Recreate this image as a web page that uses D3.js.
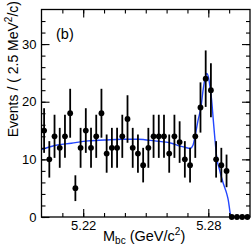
<!DOCTYPE html>
<html><head><meta charset="utf-8">
<script src="https://cdn.jsdelivr.net/npm/d3@7"></script>
<style>html,body{margin:0;padding:0;background:#fff;}svg{display:block;font-family:"Liberation Sans",Arial,sans-serif;}</style>
</head><body>
<script>
// Bin centres (GeV/c^2), 2.5 MeV bins from 5.20 to 5.30
const binLow = 5.20;
const binWidth = 0.0025;
const counts = [15,10,14,12,14,18,5,12,15,12,14,18,11,12,12,14,17,12,11,9,12,14,14,14,11,14,13,10,9,14,19,24,22,10,9,8,0,0,0,0];
const binCentres = counts.map((_, i) => +(binLow + (i + 0.5) * binWidth).toFixed(5));
// Fit curve
const fitMass = [5.2000,5.2063,5.2143,5.2223,5.2303,5.2383,5.2463,5.2543,5.2623,5.2664,5.2688,5.2712,5.2727,5.2736,5.2751,5.2765,5.2775,5.2784,5.2792,5.2800,5.2808,5.2816,5.2824,5.2832,5.2840,5.2856,5.2872,5.2888,5.2896,5.2904,5.2909,5.3000];
const fitEvents = [11.7,12.4,12.8,13.2,13.35,13.5,13.5,13.2,12.8,12.3,12.1,11.9,12.5,13.9,16.8,19.1,22.0,24.0,24.9,24.4,22.6,20.3,16.8,13.4,10.5,7.9,5.8,4.1,2.9,0.9,0,0];
const xLabelTicks = [5.22, 5.28];
const xMinorTicks = [5.21,5.22,5.23,5.24,5.25,5.26,5.27,5.28,5.29];
const yLabelTicks = [0, 10, 20, 30];
const yMinorTicks = d3.range(0, 36, 2);

const W = 251, H = 249;
const L = 41.5, R = 250, T = 9.5, B = 217;
const svg = d3.select("body").append("svg").attr("width", W).attr("height", H);
const x = d3.scaleLinear().domain([5.20, 5.30]).range([L, R]);
const y = d3.scaleLinear().domain([0, 36]).range([B, T]);

svg.append("clipPath").attr("id","c").append("rect").attr("x",L).attr("y",T).attr("width",R-L).attr("height",B-T);

// fit curve
const line = d3.line().x(d => x(d[0])).y(d => y(d[1])).curve(d3.curveMonotoneX);
svg.append("path").datum(fitMass.map((m,i)=>[m,fitEvents[i]]))
  .attr("d", line).attr("fill","none").attr("stroke","#2346ff").attr("stroke-width",1.4)
  .attr("clip-path","url(#c)");

// error bars and points
const g = svg.append("g");
binCentres.forEach((m,i)=>{
  const n = counts[i];
  if (n > 0) {
    const e = Math.sqrt(n);
    g.append("line").attr("x1",x(m)).attr("x2",x(m)).attr("y1",y(n-e)).attr("y2",y(Math.min(n+e,36)))
      .attr("stroke","#000").attr("stroke-width",1.8);
  }
  g.append("circle").attr("cx",x(m)).attr("cy",y(n)).attr("r",2.9).attr("fill","#000");
});

// frame
svg.append("rect").attr("x",L).attr("y",T).attr("width",R-L).attr("height",B-T)
  .attr("fill","none").attr("stroke","#000").attr("stroke-width",1.3);

// axes
const axB = d3.axisBottom(x).tickValues(xMinorTicks).tickSize(-4).tickFormat("");
const axT = d3.axisTop(x).tickValues(xMinorTicks).tickSize(-4).tickFormat("");
const axBM = d3.axisBottom(x).tickValues(xLabelTicks).tickSize(-8).tickPadding(4).tickFormat(d3.format(".2f"));
const axTM = d3.axisTop(x).tickValues(xLabelTicks).tickSize(-8).tickFormat("");
const axL = d3.axisLeft(y).tickValues(yMinorTicks).tickSize(-4).tickFormat("");
const axR = d3.axisRight(y).tickValues(yMinorTicks).tickSize(-4).tickFormat("");
const axLM = d3.axisLeft(y).tickValues(yLabelTicks).tickSize(-8).tickPadding(5).tickFormat(d3.format("d"));
const axRM = d3.axisRight(y).tickValues(yLabelTicks).tickSize(-8).tickFormat("");
function put(ax, tr){
  const a = svg.append("g").attr("transform",tr).call(ax);
  a.select(".domain").remove();
  a.selectAll("line").attr("stroke","#000").attr("stroke-width",1.1);
  a.selectAll("text").attr("fill","#000").attr("font-size",13).attr("font-family","Liberation Sans, Arial, sans-serif");
  return a;
}
put(axB, `translate(0,${B})`);
put(axT, `translate(0,${T})`);
put(axBM, `translate(0,${B})`);
put(axTM, `translate(0,${T})`);
put(axL, `translate(${L},0)`);
put(axR, `translate(${R},0)`);
put(axLM, `translate(${L},0)`);
put(axRM, `translate(${R},0)`);

// x title
const xt = svg.append("text").attr("x",103).attr("y",241).attr("font-size",14.5).attr("fill","#000");
xt.append("tspan").text("M");
xt.append("tspan").attr("font-size",10).attr("dy",3).text("bc");
xt.append("tspan").attr("dy",-3).text(" (GeV/c");
xt.append("tspan").attr("font-size",10).attr("dy",-6).text("2");
xt.append("tspan").attr("dy",6).text(")");

// y title
const yt = svg.append("text").attr("transform","translate(18,1) rotate(-90)").attr("text-anchor","end")
  .attr("font-size",14).attr("fill","#000");
yt.append("tspan").text("Events / ( 2.5 MeV");
yt.append("tspan").attr("font-size",10).attr("dy",-6).text("2");
yt.append("tspan").attr("dy",6).text("/c)");

// panel label
svg.append("text").attr("x",56).attr("y",39).attr("font-size",14.5).attr("fill","#000").text("(b)");
</script>
</body></html>
